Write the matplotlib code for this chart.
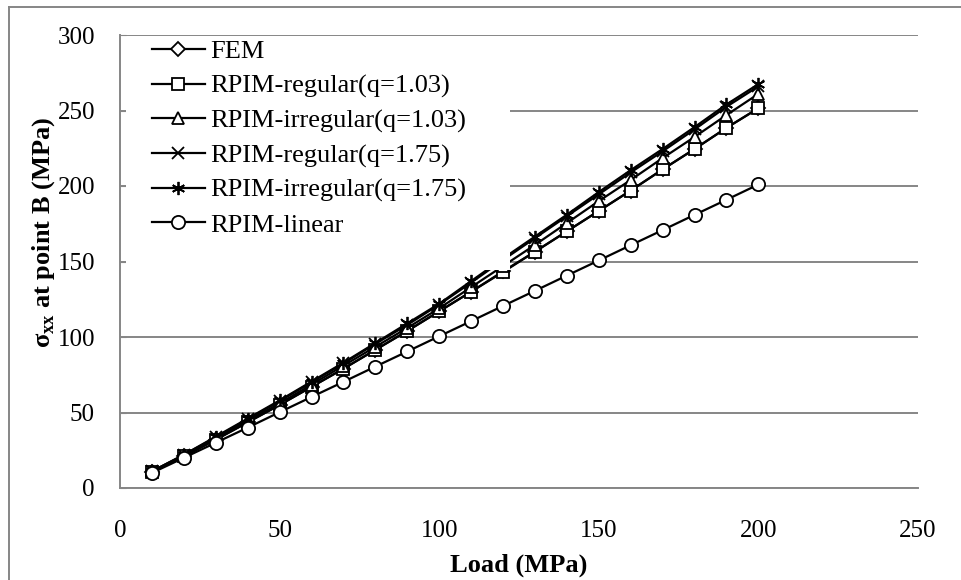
import matplotlib
matplotlib.use("Agg")
import matplotlib.pyplot as plt
from matplotlib.patches import Rectangle
from matplotlib.lines import Line2D

plt.rcParams['font.family'] = ['Liberation Serif', 'DejaVu Serif']
plt.rcParams['mathtext.fontset'] = 'custom'
plt.rcParams['mathtext.rm'] = 'Liberation Serif'
plt.rcParams['mathtext.bf'] = 'Liberation Serif:bold'

# load steps (MPa)
load = [10, 20, 30, 40, 50, 60, 70, 80, 90, 100,
        110, 120, 130, 140, 150, 160, 170, 180, 190, 200]

fem = [10.5, 21, 32, 43.5, 55, 67, 79, 91.5, 104, 117,
       130, 143.5, 156.5, 170, 183.5, 197, 211, 224.5, 238.5, 251.5]
rpim_reg_103 = [10.5, 21, 32, 43.5, 55, 67, 79, 91.5, 104, 117,
                130, 143, 156.5, 170, 183.5, 197, 211, 224.5, 238.5, 251.5]
rpim_irr_103 = [11, 21.5, 33, 44.5, 56, 68.5, 81, 93.5, 106, 119,
                133, 147, 161, 175.5, 190, 204, 218.5, 232.5, 247, 261]
rpim_reg_175 = [11, 22, 33.5, 45.5, 57.5, 70, 82.5, 95.5, 108, 121.5,
                136, 151, 165.5, 180, 194.5, 209, 223, 237.5, 252.5, 266]
rpim_irr_175 = [11, 22, 34, 46, 58, 70.5, 83, 96, 109, 122,
                137, 152, 166.5, 181, 196, 210.5, 224.5, 239, 254, 267.5]
rpim_linear = [10, 20, 30, 40, 50.2, 60.3, 70.3, 80.4, 90.4, 100.5,
               110.5, 120.6, 130.6, 140.7, 150.7, 160.8, 170.8, 180.9, 190.9, 201]

labels = ['FEM', 'RPIM-regular(q=1.03)', 'RPIM-irregular(q=1.03)',
          'RPIM-regular(q=1.75)', 'RPIM-irregular(q=1.75)', 'RPIM-linear']
series = [fem, rpim_reg_103, rpim_irr_103, rpim_reg_175, rpim_irr_175, rpim_linear]
markers = ['D', 's', '^', 'x', (6, 2, 0), 'o']
msizes = [7, 8.5, 8.5, 8.5, 9.5, 9.5]

grid_color = '#868686'

fig = plt.figure(figsize=(9.62, 5.8), dpi=100)
ax = fig.add_axes([120 / 962, 92 / 580, 798 / 962, 453 / 580])

for y, lab, m, ms in zip(series, labels, markers, msizes):
    ax.plot(load, y, color='black', lw=1.6, marker=m, ms=ms,
            mfc='white', mec='black', mew=1.3, label=lab, zorder=3)

ax.set_xlim(0, 250)
ax.set_ylim(0, 300)
ax.set_xticks(range(0, 251, 50))
ax.set_yticks(range(0, 301, 50))
ax.yaxis.grid(True, color=grid_color, lw=1.4)
ax.set_axisbelow(True)

for side in ['top', 'right']:
    ax.spines[side].set_visible(False)
for side in ['left', 'bottom']:
    ax.spines[side].set_color(grid_color)
    ax.spines[side].set_linewidth(1.4)

ax.tick_params(axis='x', length=0, pad=23, labelsize=18)
ax.tick_params(axis='y', direction='in', length=4, color=grid_color,
               pad=18, labelsize=18)

ax.set_xlabel('Load (MPa)', fontsize=19, fontweight='bold')
ax.xaxis.set_label_coords(0.5, -0.145)
ax.set_ylabel(r'$\mathbf{σ}_{\mathbf{xx}}$ at point B (MPa)', fontsize=19,
              fontweight='bold')
ax.yaxis.set_label_coords(-0.079, 0.565)

# white legend area covering the lines behind it
ax.add_patch(Rectangle((6 / 798, 218 / 453), 384 / 798, 232 / 453,
                       transform=ax.transAxes, facecolor='white',
                       edgecolor='none', zorder=4))
leg = ax.legend(loc='upper left', bbox_to_anchor=(32 / 798, 448 / 453),
                frameon=False, fontsize=19, handlelength=2.0,
                handletextpad=0.2, labelspacing=0.41, borderpad=0,
                borderaxespad=0)
leg.set_zorder(5)

# outer chart border (top and left)
fig.add_artist(Line2D([9 / 962, 1], [1 - 7 / 580, 1 - 7 / 580],
                      transform=fig.transFigure, color=grid_color, lw=1.4))
fig.add_artist(Line2D([9 / 962, 9 / 962], [0, 1 - 7 / 580],
                      transform=fig.transFigure, color=grid_color, lw=1.4))

fig.savefig('out.png', dpi=100)
